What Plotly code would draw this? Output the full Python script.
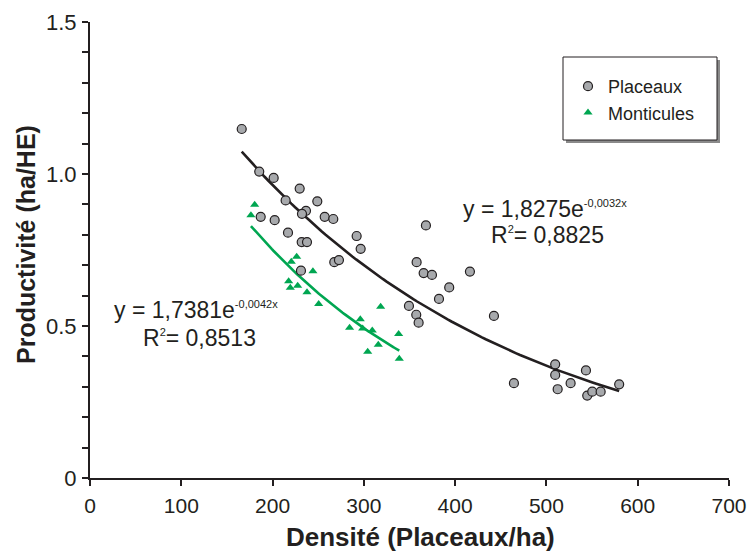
import numpy as np
import plotly.graph_objects as go

# ---- data ----
placeaux_x = [166.2, 185.4, 201.2, 229.7, 214.3, 249.0, 236.6, 232.2, 187.0, 202.3,
              257.1, 266.5, 216.9, 231.9, 237.7, 292.1, 296.5, 267.6, 272.7, 231.1,
              368.0, 357.8, 365.5, 374.6, 416.2, 393.5, 382.3, 349.4, 357.4, 360.0,
              442.5, 464.4, 509.6, 509.6, 512.3, 526.5, 543.3, 544.7, 550.2, 559.4, 579.7]
placeaux_y = [1.148, 1.008, 0.987, 0.952, 0.913, 0.910, 0.879, 0.869, 0.859, 0.848,
              0.859, 0.852, 0.807, 0.776, 0.776, 0.796, 0.754, 0.710, 0.717, 0.682,
              0.831, 0.710, 0.674, 0.668, 0.679, 0.627, 0.589, 0.566, 0.537, 0.511,
              0.533, 0.312, 0.374, 0.339, 0.292, 0.312, 0.354, 0.271, 0.284, 0.284, 0.308]

monticules_x = [180.4, 176.3, 226.4, 220.5, 244.2, 217.6, 219.4, 227.5, 237.7, 250.5,
                318.4, 296.1, 284.4, 298.7, 309.2, 338.1, 315.8, 304.2, 338.8]
monticules_y = [0.899, 0.864, 0.728, 0.711, 0.680, 0.647, 0.626, 0.632, 0.611, 0.572,
                0.563, 0.522, 0.494, 0.492, 0.485, 0.474, 0.438, 0.415, 0.392]

# exponential trend lines (coefficients shown on the chart)
placeaux_a, placeaux_b = 1.8275, -0.0032
monticules_a, monticules_b = 1.7381, -0.0042

x_ticks = [0, 100, 200, 300, 400, 500, 600, 700]
y_tick_vals = [0, 0.5, 1.0, 1.5]
y_tick_text = ["0", "0.5", "1.0", "1.5"]
y_minor_vals = [round(i * 0.1, 1) for i in range(16)]

INK = "#231f20"
GREEN = "#00a651"
FONT = "Liberation Sans, Arial, Helvetica, sans-serif"

fig = go.Figure()

tx1 = np.linspace(min(placeaux_x), max(placeaux_x), 100)
fig.add_trace(go.Scatter(x=tx1, y=placeaux_a * np.exp(placeaux_b * tx1), mode="lines",
                         line=dict(color=INK, width=2.6), showlegend=False, hoverinfo="skip"))
tx2 = np.linspace(min(monticules_x), max(monticules_x), 100)
fig.add_trace(go.Scatter(x=tx2, y=monticules_a * np.exp(monticules_b * tx2), mode="lines",
                         line=dict(color=GREEN, width=2.6), showlegend=False, hoverinfo="skip"))

fig.add_trace(go.Scatter(x=placeaux_x, y=placeaux_y, mode="markers", name="Placeaux",
                         marker=dict(symbol="circle", size=9, color="#a7a9ac",
                                     line=dict(color=INK, width=1.2))))
fig.add_trace(go.Scatter(x=monticules_x, y=monticules_y, mode="markers", name="Monticules",
                         marker=dict(symbol="triangle-up", size=8, color=GREEN,
                                     line=dict(width=0))))

W, H = 747, 553
PX0, PX1, PY0, PY1 = 90, 729, 22, 478   # plot area in pixels
pw, ph = PX1 - PX0, PY1 - PY0
L, T = PX0, PY0
R, B = W - L - pw, H - T - ph


def px2paper(px, py):
    return (px - PX0) / pw, (PY1 - py) / ph


# legend box with shadow
bx0, by1 = px2paper(563, 57)
bx1, by0 = px2paper(717, 140)
sx, sy = 3 / pw, 3 / ph
shapes = [
    dict(type="rect", xref="paper", yref="paper", x0=bx0 + sx, x1=bx1 + sx, y0=by0 - sy, y1=by1 - sy,
         fillcolor="#8a8a8a", line=dict(width=0), layer="above"),
    dict(type="rect", xref="paper", yref="paper", x0=bx0, x1=bx1, y0=by0, y1=by1,
         fillcolor="white", line=dict(color=INK, width=1), layer="above"),
]

eq_font = dict(family=FONT, size=23, color=INK)
sup = '<sup><span style="font-size:11px">{}</span></sup>'
annotations = [
    dict(x=498, y=0.885, text="y = 1,8275e" + sup.format("-0,0032x")),
    dict(x=501.6, y=0.799, text="R" + sup.format("2") + "= 0,8825"),
    dict(x=115.6, y=0.553, text="y = 1,7381e" + sup.format("-0,0042x")),
    dict(x=119.4, y=0.461, text="R" + sup.format("2") + "= 0,8513"),
]
for a in annotations:
    a.update(xref="x", yref="y", showarrow=False, font=eq_font,
             xanchor="center", yanchor="middle")

xt = px2paper(420.5, 537)
annotations.append(dict(x=xt[0], y=xt[1], xref="paper", yref="paper", showarrow=False,
                        xanchor="center", yanchor="middle",
                        text="<b>Densité (Placeaux/ha)</b>",
                        font=dict(family=FONT, size=26, color=INK)))
yt = px2paper(26, 245)
annotations.append(dict(x=yt[0], y=yt[1], xref="paper", yref="paper", showarrow=False,
                        xanchor="center", yanchor="middle",
                        text="<b>Productivité (ha/HE)</b>", textangle=-90,
                        font=dict(family=FONT, size=25, color=INK)))

lg = px2paper(568, 68)

fig.update_layout(
    width=W, height=H,
    margin=dict(l=L, r=R, t=T, b=B, autoexpand=False),
    paper_bgcolor="white", plot_bgcolor="white",
    font=dict(family=FONT, color=INK),
    xaxis=dict(range=[0, 700], tickvals=x_ticks, ticks="outside", ticklen=6, tickwidth=1.5,
               tickcolor=INK, showline=True, linecolor=INK, linewidth=2, showgrid=False,
               zeroline=False, tickfont=dict(family=FONT, size=21, color=INK),
               ticklabelstandoff=2, automargin=False),
    yaxis=dict(range=[0, 1.5], tickvals=y_tick_vals, ticktext=y_tick_text,
               ticks="outside", ticklen=6, tickwidth=1.5, tickcolor=INK, showline=True,
               linecolor=INK, linewidth=2, showgrid=False, zeroline=False,
               minor=dict(tickvals=y_minor_vals, ticks="outside", ticklen=6, tickwidth=1.5,
                          tickcolor=INK, showgrid=False),
               tickfont=dict(family=FONT, size=22, color=INK), ticklabelstandoff=1,
               automargin=False),
    legend=dict(x=lg[0], y=lg[1], xanchor="left", yanchor="top", bgcolor="rgba(0,0,0,0)",
                borderwidth=0, font=dict(family=FONT, size=18, color=INK)),
    shapes=shapes,
    annotations=annotations,
)

fig.write_html("out.html", config={"displayModeBar": False},
               post_script="document.body.style.margin='0';document.body.style.overflow='hidden';")
